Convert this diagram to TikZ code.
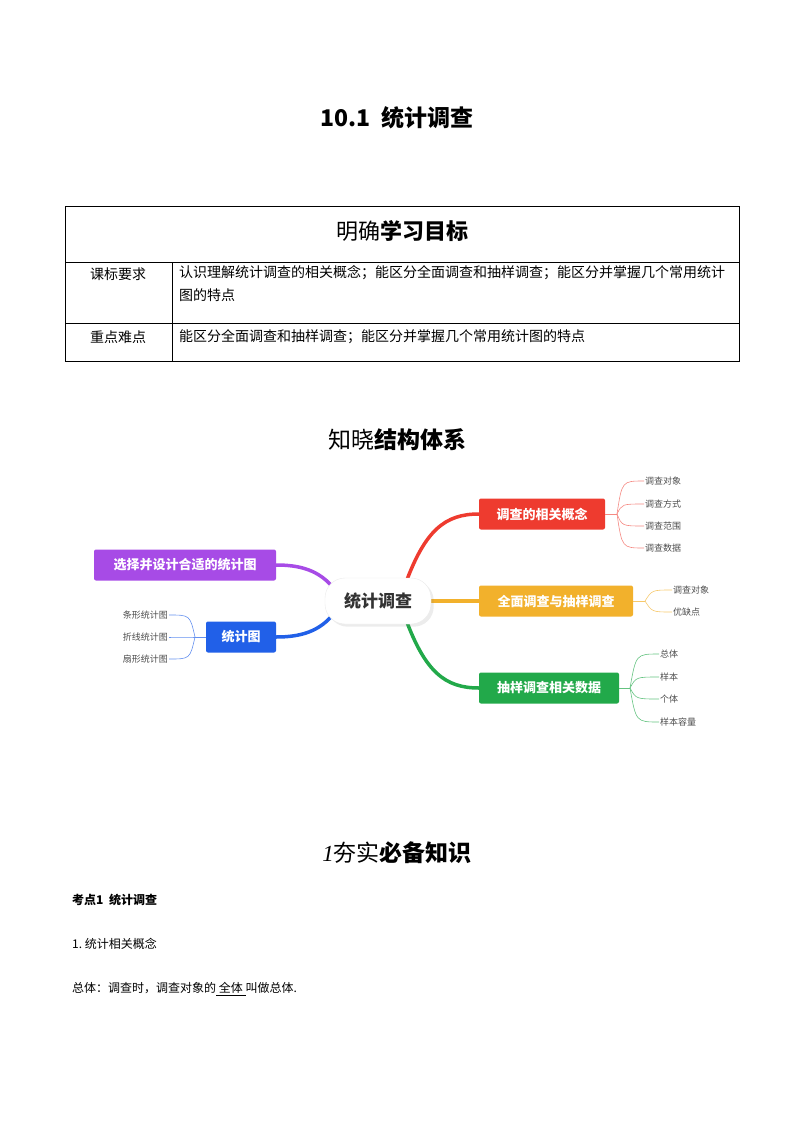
\documentclass[tikz,border=0pt]{standalone}
\usepackage{fontspec}
\setmainfont{Noto Sans CJK SC}
\usetikzlibrary{shadows}
\definecolor{cred}{HTML}{EE3B2F}
\definecolor{cora}{HTML}{F2B12C}
\definecolor{cgrn}{HTML}{22A94A}
\definecolor{cpur}{HTML}{A74BE6}
\definecolor{cblu}{HTML}{2160E8}
\tikzset{
 box/.style={rounded corners=2pt, minimum height=31pt, inner xsep=8pt, text=white, font=\fontsize{13}{15}\selectfont\bfseries, anchor=center},
 leaf/.style={font=\fontsize{9}{11}\selectfont, text=black!70, inner sep=1pt},
 main/.style={line width=3.5pt, line cap=round},
 twig/.style={line width=0.6pt},
 txt/.style={font=\fontsize{13}{16}\selectfont, inner sep=0pt, anchor=west},
 ttxt/.style={font=\fontsize{14}{16}\selectfont, inner sep=0pt, anchor=west},
}
\begin{document}
\begin{tikzpicture}[x=1pt,y=-1pt]
\useasboundingbox (0,0) rectangle (794,1123);
\node[font=\fontsize{23}{26}\selectfont\bfseries] (title) at (397,118) {10.1\ \ 统计调查};
% table
\draw[line width=0.6pt] (65,206) rectangle (739,361);
\draw[line width=0.6pt] (65,262) -- (739,262) (65,323) -- (739,323) (172,262) -- (172,361);
\node[font=\fontsize{22}{26}\selectfont] (goal) at (402,231) {明确\textbf{学习目标}};
\node[ttxt,anchor=center] (k1) at (118,274) {课标要求};
\node[ttxt,anchor=center] (k2) at (118,337) {重点难点};
\node[ttxt,anchor=north west,align=left,font=\fontsize{14}{23}\selectfont] (v1) at (179,265) {认识理解统计调查的相关概念；能区分全面调查和抽样调查；能区分并掌握几个常用统计\\图的特点};
\node[ttxt] (v2) at (179,337) {能区分全面调查和抽样调查；能区分并掌握几个常用统计图的特点};
\node[font=\fontsize{23}{26}\selectfont] (h2) at (397,440) {知晓\textbf{结构体系}};
% mind map
\draw[main,cred] (405,585) .. controls (425,530) and (445,514) .. (479,514);
\draw[main,cora] (430,601) -- (479,601);
\draw[main,cgrn] (405,617) .. controls (425,672) and (445,688) .. (479,688);
\draw[main,cpur] (335,590) .. controls (320,570) and (300,565) .. (276,565);
\draw[main,cblu] (335,612) .. controls (320,632) and (300,637) .. (276,637);
\node[rounded corners=20pt, fill=white, draw=black!8, drop shadow={opacity=0.15}, minimum width=106pt, minimum height=46pt, font=\fontsize{17}{20}\selectfont\bfseries, text=black!80] (c) at (378,601) {统计调查};
\node[box,fill=cred,minimum width=126pt] (r) at (542,514) {调查的相关概念};
\node[box,fill=cora,minimum width=154pt] (o) at (556,601) {全面调查与抽样调查};
\node[box,fill=cgrn,minimum width=140pt] (g) at (549,688) {抽样调查相关数据};
\node[box,fill=cpur,minimum width=182pt] (p) at (185,565) {选择并设计合适的统计图};
\node[box,fill=cblu,minimum width=70pt] (b) at (241,637) {统计图};
% red leaves
\coordinate (rj) at (617,514);
\draw[twig,cred!60] (r.east) -- (rj);
\foreach \t/\y [count=\i] in {调查对象/481,调查方式/504,调查范围/526,调查数据/548}{
 \node[leaf,anchor=west] (rl\i) at (644,\y) {\t};
 \draw[twig,cred!60] (rj) .. controls (622,\y) .. (rl\i.west);
}
\coordinate (oj) at (645,601);
\draw[twig,cora!70] (o.east) -- (oj);
\foreach \t/\y [count=\i] in {调查对象/590,优缺点/612}{
 \node[leaf,anchor=west] (ol\i) at (672,\y) {\t};
 \draw[twig,cora!70] (oj) .. controls (652,\y) .. (ol\i.west);
}
\coordinate (gj) at (630,688);
\draw[twig,cgrn!70] (g.east) -- (gj);
\foreach \t/\y [count=\i] in {总体/654,样本/677,个体/699,样本容量/722}{
 \node[leaf,anchor=west] (gl\i) at (659,\y) {\t};
 \draw[twig,cgrn!70] (gj) .. controls (636,\y) .. (gl\i.west);
}
\coordinate (bj) at (195,637);
\draw[twig,cblu!70] (b.west) -- (bj);
\foreach \t/\y [count=\i] in {条形统计图/615,折线统计图/637,扇形统计图/659}{
 \node[leaf,anchor=east] (bl\i) at (169,\y) {\t};
 \draw[twig,cblu!70] (bj) .. controls (190,\y) .. (bl\i.east);
}
% bottom
\node[font=\fontsize{23}{26}\selectfont] (h3) at (397,853) {\textit{\fontspec{Liberation Serif}1}夯实\textbf{必备知识}};
\node[txt,font=\fontsize{12}{14}\selectfont\bfseries] (kd) at (72,900) {考点1\ \ 统计调查};
\node[txt,font=\fontsize{12}{14}\selectfont] (s1) at (72,944) {1.\ 统计相关概念};
\node[txt,font=\fontsize{12}{14}\selectfont] (s2) at (72,989) {总体：调查时，调查对象的\underline{\ 全体\ }叫做总体.};
\end{tikzpicture}
\end{document}
